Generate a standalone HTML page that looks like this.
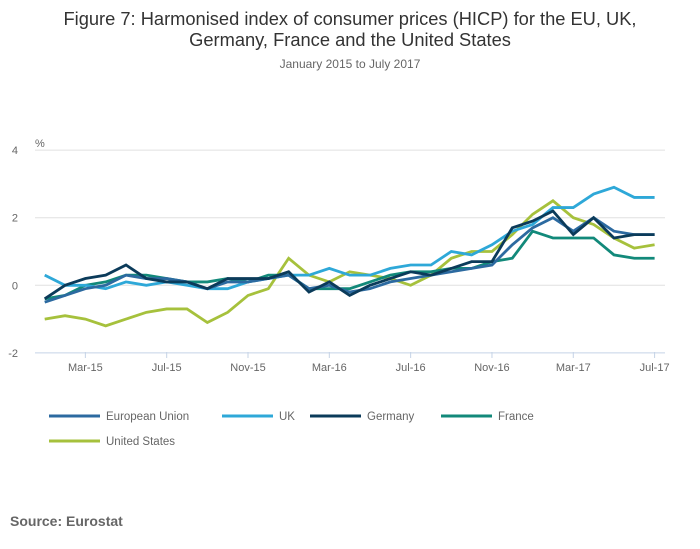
<!DOCTYPE html>
<html><head><meta charset="utf-8"><style>
body{margin:0;background:#fff;font-family:"Liberation Sans",sans-serif;}
#wrap{position:relative;width:700px;height:549px;overflow:hidden;}
</style></head><body>
<div id="wrap">
<svg id="svg" width="700" height="549">
<text x="350" y="25" text-anchor="middle" font-size="18.3" fill="#333">Figure 7: Harmonised index of consumer prices (HICP) for the EU, UK,</text>
<text x="350" y="46" text-anchor="middle" font-size="18.3" fill="#333">Germany, France and the United States</text>
<text x="350" y="68" text-anchor="middle" font-size="12" fill="#666">January 2015 to July 2017</text>
<text x="35" y="147" font-size="11" fill="#666">%</text>
<g id="grid"></g><g id="xaxis"></g><g id="series"></g><g id="legend"></g>
<text x="10" y="526" font-size="14" font-weight="bold" fill="#666">Source: Eurostat</text>
</svg>
</div>
<script>
const months = 31;
const xTickLabels = ["Mar-15","Jul-15","Nov-15","Mar-16","Jul-16","Nov-16","Mar-17","Jul-17"];
const xTickIndex = [2,6,10,14,18,22,26,30];
const yTicks = [-2,0,2,4];
const seriesNames = ["European Union","UK","Germany","France","United States"];
const eu = [-0.5,-0.3,-0.1,0.0,0.3,0.2,0.2,0.1,-0.1,0.1,0.1,0.2,0.3,-0.1,0.0,-0.2,-0.1,0.1,0.2,0.3,0.4,0.5,0.6,1.2,1.7,2.0,1.6,2.0,1.6,1.5,1.5];
const uk = [0.3,0.0,0.0,-0.1,0.1,0.0,0.1,0.0,-0.1,-0.1,0.1,0.2,0.3,0.3,0.5,0.3,0.3,0.5,0.6,0.6,1.0,0.9,1.2,1.6,1.8,2.3,2.3,2.7,2.9,2.6,2.6];
const de = [-0.4,0.0,0.2,0.3,0.6,0.2,0.1,0.1,-0.1,0.2,0.2,0.2,0.4,-0.2,0.1,-0.3,0.0,0.2,0.4,0.3,0.5,0.7,0.7,1.7,1.9,2.2,1.5,2.0,1.4,1.5,1.5];
const fr = [-0.4,-0.3,0.0,0.1,0.3,0.3,0.2,0.1,0.1,0.2,0.1,0.3,0.3,-0.1,-0.1,-0.1,0.1,0.3,0.4,0.4,0.5,0.5,0.7,0.8,1.6,1.4,1.4,1.4,0.9,0.8,0.8];
const us = [-1.0,-0.9,-1.0,-1.2,-1.0,-0.8,-0.7,-0.7,-1.1,-0.8,-0.3,-0.1,0.8,0.3,0.1,0.4,0.3,0.2,0.0,0.3,0.8,1.0,1.0,1.5,2.1,2.5,2.0,1.8,1.4,1.1,1.2];
const colors = ["#2c6aa0","#2ea8d8","#0b3b5a","#12897a","#a6c13c"];
const ns="http://www.w3.org/2000/svg";
const x = i => 44.7 + i*20.33;
const y = v => 285.3 - v*33.8;
function mk(t,a,p){const e=document.createElementNS(ns,t);for(const k in a)e.setAttribute(k,a[k]);p.appendChild(e);return e;}
const grid=document.getElementById('grid');
yTicks.forEach(v=>{
  const l=mk('line',{x1:35,x2:665,y1:y(v),y2:y(v),stroke:v===-2?'#c5d3e6':'#e0e0e0','stroke-width':1},grid);
  
  
  const t=mk('text',{x:18,y:y(v)+4,'font-size':11,fill:'#666','text-anchor':'end'},grid);
  t.textContent=v;
  
  
});
const xa=document.getElementById('xaxis');
xTickIndex.forEach((i,k)=>{
  const l=mk('line',{x1:x(i),x2:x(i),y1:352,y2:358,stroke:'#c5d3e6'},xa);
  
  
  const t=mk('text',{x:x(i),y:371,'font-size':11,fill:'#666','text-anchor':'middle'},xa);
  t.textContent=xTickLabels[k];
  
  
});
const data=[eu,uk,de,fr,us];
const keys=["eu","uk","germany","france","us"];
const sg=document.getElementById('series');
[4,3,1,0,2].forEach(s=>{
  const p=mk('polyline',{points:data[s].map((v,i)=>x(i)+','+y(v)).join(' '),fill:'none',stroke:colors[s],'stroke-width':2.8,'stroke-linejoin':'miter'},sg);
  
  
});
const lg=document.getElementById('legend');
const lpos=[[49,416],[222,416],[310,416],[441,416],[49,441]];
seriesNames.forEach((n,s)=>{
  const g=mk('g',{},lg);
  
  
  mk('line',{x1:lpos[s][0],x2:lpos[s][0]+51,y1:lpos[s][1],y2:lpos[s][1],stroke:colors[s],'stroke-width':3},g);
  const t=mk('text',{x:lpos[s][0]+57,y:lpos[s][1]+4,'font-size':11.5,fill:'#666'},g);
  t.textContent=n;
});
</script>
</body></html>
